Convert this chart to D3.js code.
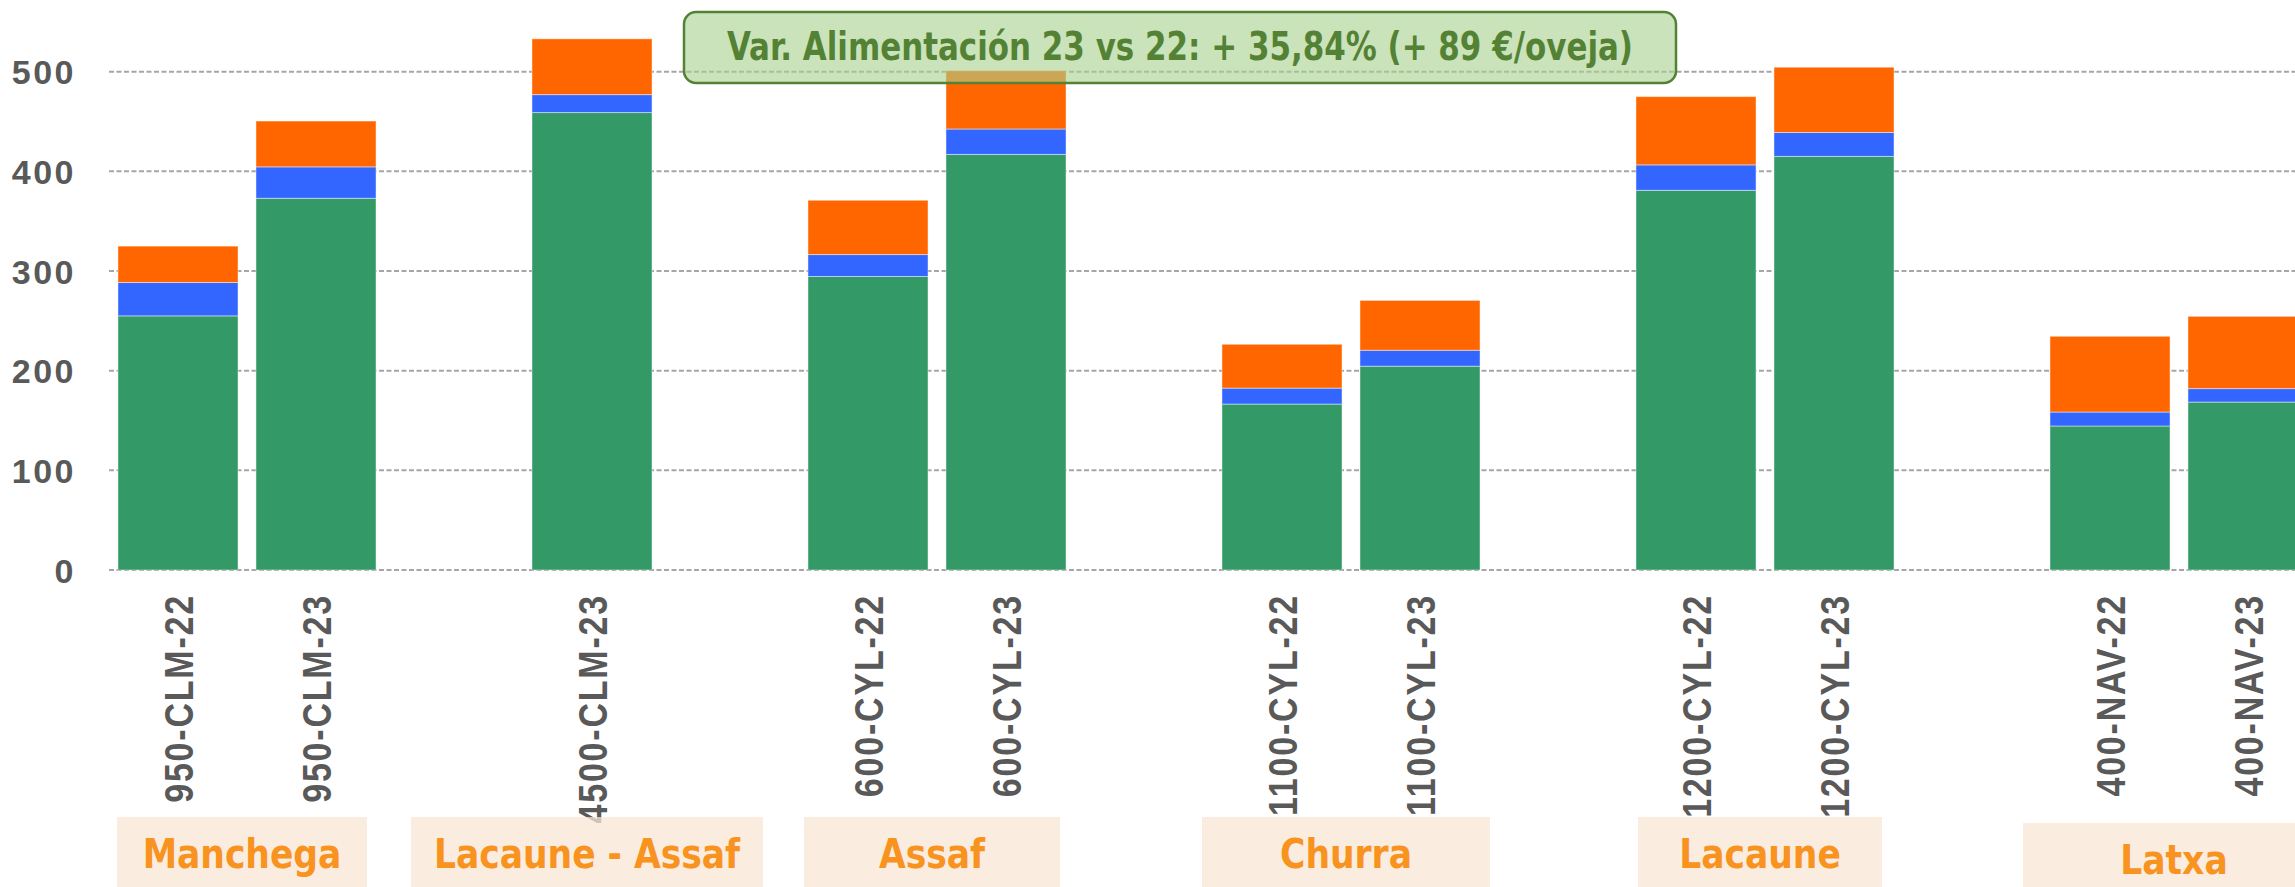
<!DOCTYPE html>
<html>
<head>
<meta charset="utf-8">
<script src="https://cdn.jsdelivr.net/npm/d3@7"></script>
<style>
  body { margin: 0; background: #fff; overflow: hidden; }
</style>
</head>
<body>
<div id="chart"></div>
<script>
// Stacked bars: feeding cost per sheep, farms 22 vs 23

// data
var categories = ["950-CLM-22", "950-CLM-23", "", "4500-CLM-23", "", "600-CYL-22", "600-CYL-23", "",
                  "1100-CYL-22", "1100-CYL-23", "", "1200-CYL-22", "1200-CYL-23", "", "400-NAV-22", "400-NAV-23"];
var greenVals  = [255, 373, null, 459, null, 294.5, 417, null, 166.5, 204.5, null, 381, 415, null, 144.5, 168.5];
var blueVals   = [33.5, 31.5, null, 18, null, 22, 25.5, null, 16, 16, null, 25.5, 24, null, 14, 13.5];
var orangeVals = [36.5, 46, null, 56, null, 54.5, 58.5, null, 44, 50, null, 68.5, 65.5, null, 76, 72.5];
var yTicks = [0, 100, 200, 300, 400, 500];
var breeds = ["Manchega", "Lacaune - Assaf", "Assaf", "Churra", "Lacaune", "Latxa"];
var breedFirst = [0, 3, 5, 8, 11, 14];
var breedLast  = [1, 3, 6, 9, 12, 15];
var note = "Var. Alimentación 23 vs 22: + 35,84% (+ 89 €/oveja)";

// layout
var svgWidth = 2295, svgHeight = 887;
var margin = {left: 109, top: 0};
var plotRight = 2317;          // plot runs past the window edge
var y0px = 570, y500px = 71.7;
var boxW = [250, 352, 256, 288, 244, 302];
var colors = {green: "#339966", blue: "#3366ff", orange: "#ff6600"};

var svg = d3.select("#chart")
    .append("svg")
    .attr("width", svgWidth)
    .attr("height", svgHeight)
    .style("display", "block");

var xScale = d3.scaleBand()
    .domain(d3.range(categories.length))
    .range([margin.left, plotRight])
    .paddingInner(0.13)
    .paddingOuter(0.065);

var yScale = d3.scaleLinear()
    .domain([0, 500])
    .range([y0px, y500px]);

// gridlines
svg.append("g")
    .selectAll("line")
    .data(yTicks)
    .enter()
    .append("line")
    .attr("x1", margin.left)
    .attr("x2", svgWidth)
    .attr("y1", d => yScale(d))
    .attr("y2", d => yScale(d))
    .attr("stroke", "#a6a6a6")
    .attr("stroke-width", 2)
    .attr("stroke-dasharray", "5,2.5");

// y axis labels
var leftAxis = d3.axisLeft(yScale).tickValues(yTicks).tickSize(0).tickPadding(0);
var yAxis = svg.append("g")
    .attr("transform", "translate(76,0)")
    .call(leftAxis);
yAxis.select(".domain").remove();
yAxis.selectAll("text")
    .attr("font-family", "'Liberation Sans', Arial, sans-serif")
    .attr("font-weight", "bold")
    .attr("font-size", "34px")
    .attr("letter-spacing", "2.5px")
    .attr("fill", "#595959")
    .attr("dy", "0.36em");

// stacked bars
var rows = categories.map((c, i) => ({cat: c, i: i, green: greenVals[i], blue: blueVals[i], orange: orangeVals[i]}))
    .filter(d => d.green != null);
var stack = d3.stack().keys(["green", "blue", "orange"]);
var series = stack(rows);

svg.append("g")
    .selectAll("g")
    .data(series)
    .enter()
    .append("g")
    .attr("fill", d => colors[d.key])
    .selectAll("rect")
    .data(d => d)
    .enter()
    .append("rect")
    .attr("x", d => xScale(d.data.i))
    .attr("width", xScale.bandwidth())
    .attr("y", d => yScale(d[1]))
    .attr("height", d => yScale(d[0]) - yScale(d[1]))
    .attr("stroke", "#ffffff")
    .attr("stroke-opacity", 0.45)
    .attr("stroke-width", 1);

// category labels (rotated)
svg.append("g")
    .selectAll("text")
    .data(rows)
    .enter()
    .append("text")
    .attr("transform", d => "translate(" + (xScale(d.i) + xScale.bandwidth() / 2) + ",594) rotate(-90) scale(1,1.2)")
    .attr("text-anchor", "end")
    .attr("dy", "0.36em")
    .attr("font-family", "'Liberation Sans', Arial, sans-serif")
    .attr("font-weight", "bold")
    .attr("font-size", "34px")
    .attr("letter-spacing", "1.8px")
    .attr("fill", "#595959")
    .text(d => d.cat);

// breed boxes
var breedG = svg.append("g")
    .selectAll("g")
    .data(breeds)
    .enter()
    .append("g")
    .attr("transform", (d, i) => {
        var cx = (xScale(breedFirst[i]) + xScale(breedLast[i]) + xScale.bandwidth()) / 2 - 5;
        return "translate(" + cx + ",0)";
    });

breedG.append("rect")
    .attr("x", (d, i) => -boxW[i] / 2)
    .attr("y", (d, i) => i == 5 ? 823 : 817)
    .attr("width", (d, i) => boxW[i])
    .attr("height", 80)
    .attr("fill", "#fae5d6")
    .attr("fill-opacity", 0.75);

breedG.append("text")
    .attr("x", 0)
    .attr("y", (d, i) => i == 5 ? 874 : 868)
    .attr("text-anchor", "middle")
    .attr("font-family", "'DejaVu Sans Condensed', 'DejaVu Sans', sans-serif")
    .attr("font-weight", "bold")
    .attr("font-size", "40px")
    .attr("fill", "#f7931e")
    .attr("transform", "scale(0.96,1)")
    .text(d => d);

// annotation box
var noteG = svg.append("g");
noteG.append("rect")
    .attr("x", 684)
    .attr("y", 12)
    .attr("width", 992)
    .attr("height", 71)
    .attr("rx", 12)
    .attr("fill", "#a9d08e")
    .attr("fill-opacity", 0.6)
    .attr("stroke", "#538135")
    .attr("stroke-width", 2.5);
noteG.append("text")
    .attr("x", 1180)
    .attr("y", 60)
    .attr("text-anchor", "middle")
    .attr("font-family", "'DejaVu Sans Condensed', 'DejaVu Sans', sans-serif")
    .attr("font-weight", "bold")
    .attr("font-size", "39px")
    .attr("fill", "#548235")
    .attr("textLength", 906)
    .attr("lengthAdjust", "spacingAndGlyphs")
    .text(note);
</script>
</body>
</html>
